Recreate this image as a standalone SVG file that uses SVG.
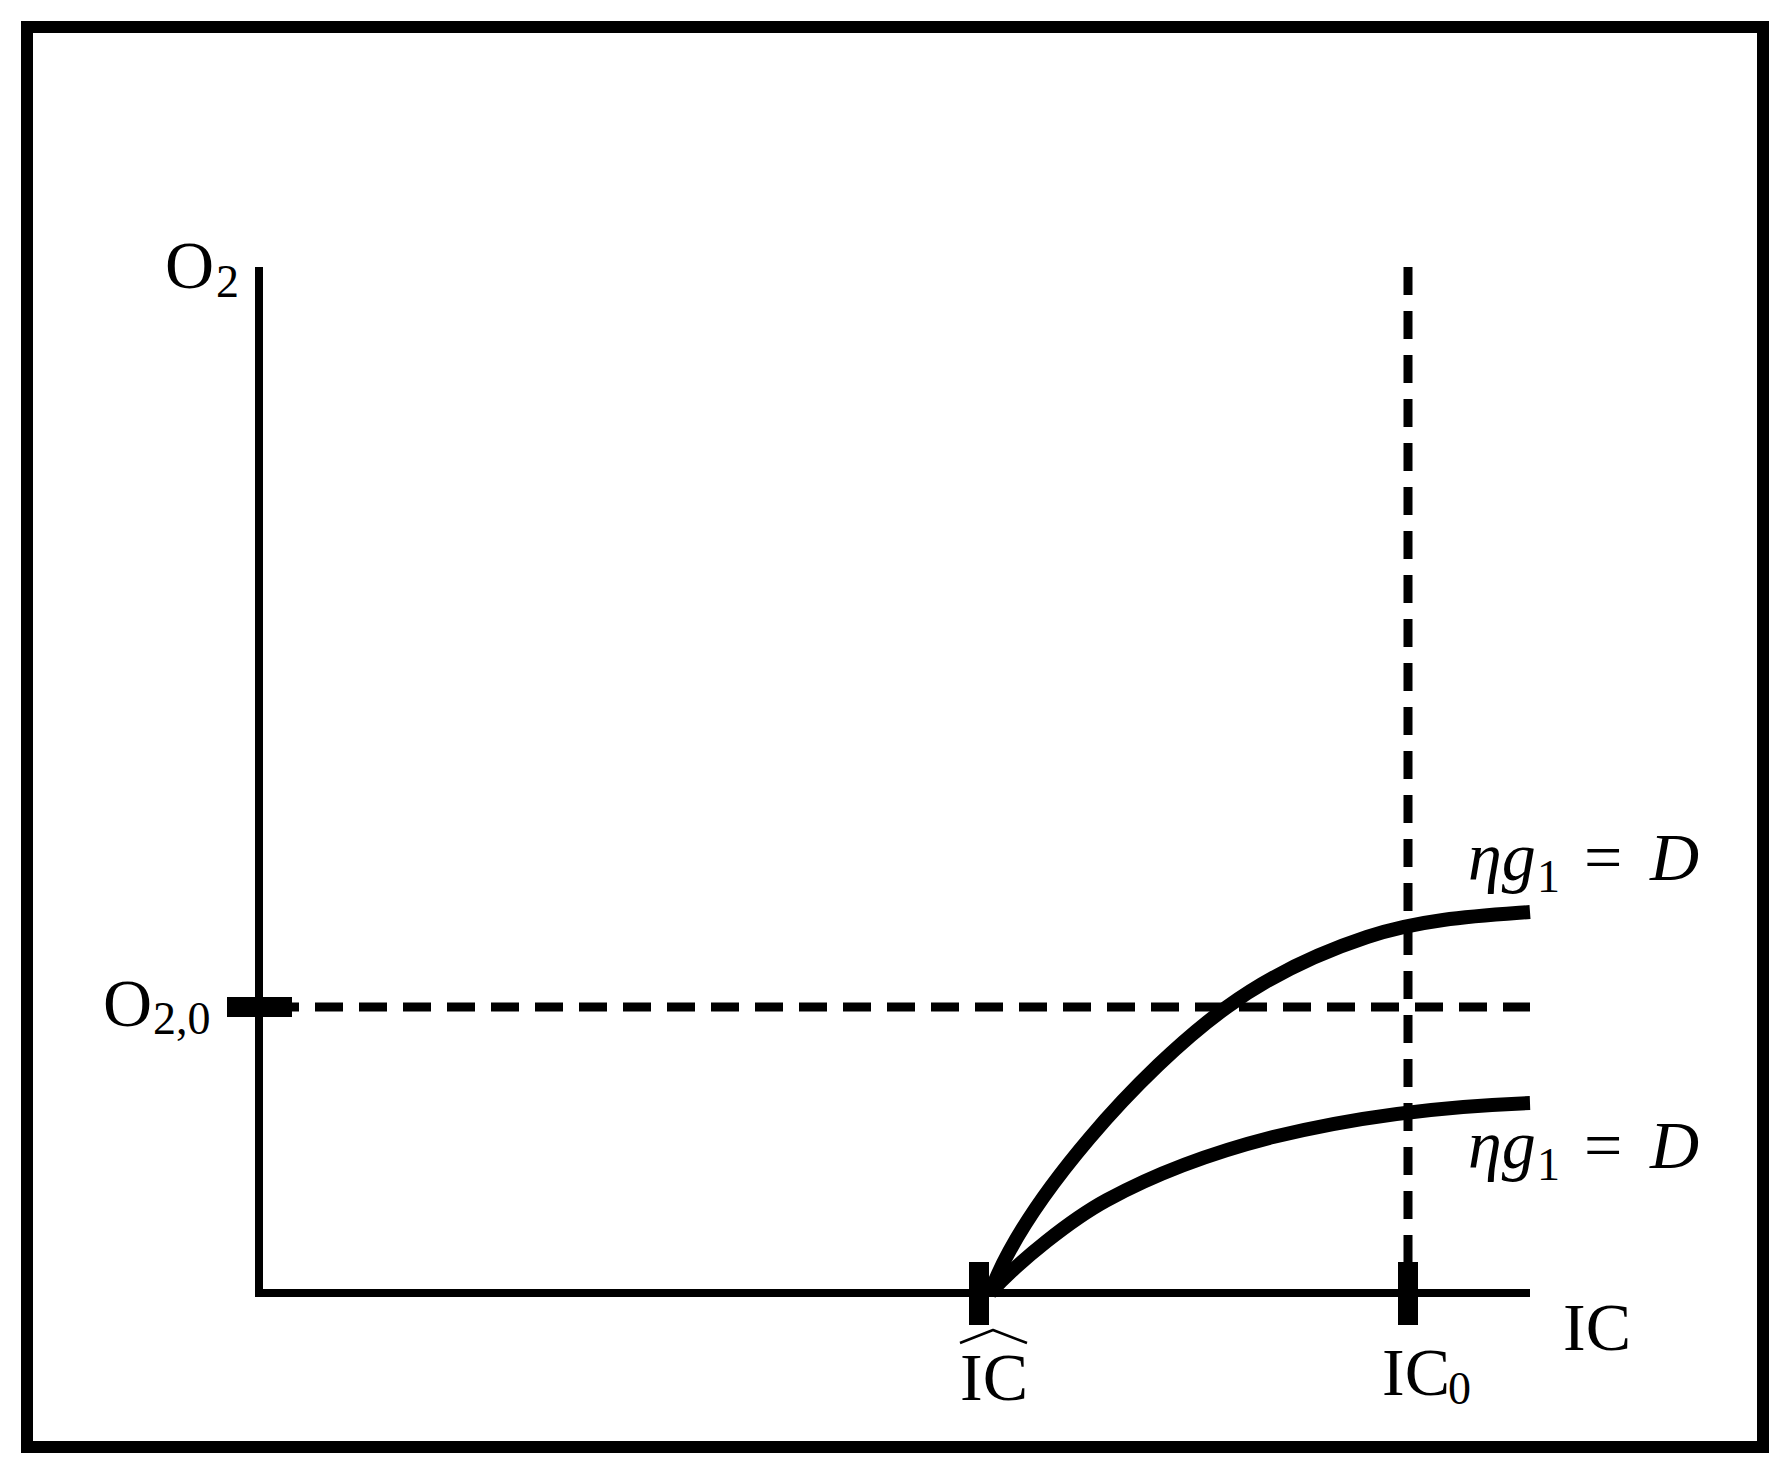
<svg xmlns="http://www.w3.org/2000/svg" width="1785" height="1465" viewBox="0 0 1785 1465">
<style>
.frame{fill:none;stroke:#000;stroke-width:12}
.axis{fill:none;stroke:#000;stroke-width:8;stroke-linecap:butt}
.dash{fill:none;stroke:#000;stroke-width:9;stroke-dasharray:28 16}
.curve{fill:none;stroke:#000;stroke-width:14;stroke-linecap:butt;stroke-linejoin:round}
.tick{fill:#000}
.lbl{font-family:"Liberation Serif","Times New Roman",serif;font-size:68px;fill:#000}
.sub{font-size:46px}
.it{font-style:italic}
</style>
<rect width="1785" height="1465" fill="#fff"/>
<rect id="frame" class="frame" x="27" y="27" width="1736" height="1420"/>
<g id="axes">
  <line class="axis" x1="259" y1="267" x2="259" y2="1297"/>
  <line class="axis" x1="255" y1="1293" x2="1530" y2="1293"/>
</g>
<g id="connectors">
  <line class="dash" x1="227" y1="1007" x2="1530" y2="1007"/>
  <line class="dash" x1="1408" y1="267" x2="1408" y2="1262"/>
  <path id="curve-upper" class="curve" d="M990,1293 C1025,1200 1140,1070 1227,1007 C1274,973 1320,952.5 1367,937 C1421,919 1476,916 1530,912"/>
  <path id="curve-lower" class="curve" d="M990,1293 C1020,1260 1072,1219 1107,1200 C1162,1170 1218,1151 1273,1137 C1358,1116 1445,1106 1530,1103"/>
</g>
<g id="ticks">
  <rect class="tick" x="227" y="997" width="65" height="20"/>
  <rect class="tick" x="969" y="1262" width="20" height="63"/>
  <rect class="tick" x="1398" y="1262" width="20" height="63"/>
</g>
<g id="label-O2"><text class="lbl" x="165" y="288">O<tspan class="sub" x="216" y="297">2</tspan></text></g>
<g id="label-O20"><text class="lbl" x="103" y="1026">O<tspan class="sub" x="153" y="1034">2,0</tspan></text></g>
<g id="label-IChat">
  <path d="M960,1343 L993,1330 L1027,1343" fill="none" stroke="#000" stroke-width="2.5" stroke-linejoin="round"/>
  <text class="lbl" x="960" y="1400">IC</text>
</g>
<g id="label-IC0"><text class="lbl" x="1382" y="1395">IC<tspan class="sub" x="1448" y="1404">0</tspan></text></g>
<g id="label-IC"><text class="lbl" x="1563" y="1350">IC</text></g>
<g id="label-upper"><text class="lbl"><tspan class="it" x="1468" y="880">ηg</tspan><tspan class="sub" x="1537" y="892">1</tspan><tspan x="1584" y="880">=</tspan><tspan class="it" x="1650" y="880">D</tspan></text></g>
<g id="label-lower"><text class="lbl"><tspan class="it" x="1468" y="1168">ηg</tspan><tspan class="sub" x="1537" y="1180">1</tspan><tspan x="1584" y="1168">=</tspan><tspan class="it" x="1650" y="1168">D</tspan></text></g>
</svg>
